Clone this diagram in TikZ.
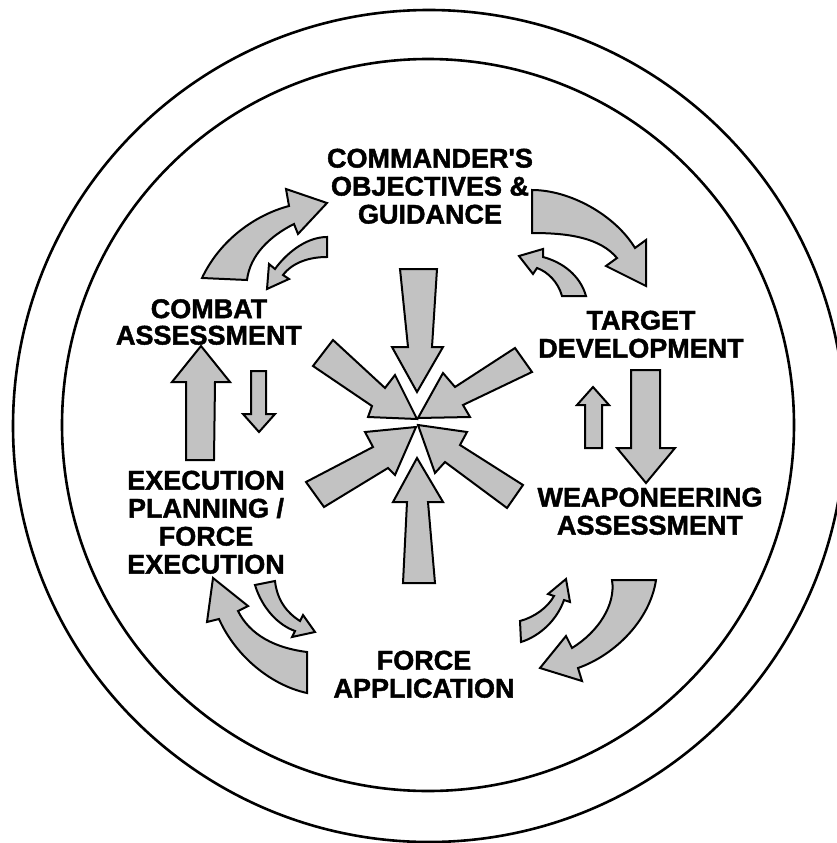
\documentclass[tikz,border=0pt]{standalone}
\usepackage{fontspec}
\setmainfont{Liberation Sans}
\newfontfamily\heavyfont{Liberation Sans Bold}[FakeBold=1.6]
\begin{document}
\begin{tikzpicture}[x=1pt,y=-1pt,
  blk/.style={draw=black, line width=2pt, fill=black!24, line join=miter},
  ring/.style={draw=black, line width=2.6pt},
  lbl/.style={font=\heavyfont\fontsize{27}{28}\selectfont, align=center, inner sep=0pt, anchor=north}]
\useasboundingbox (0,0) rectangle (837,843);
% rings
\draw[ring] (429,426) circle[radius=416pt];
\draw[ring] (428,425) circle[radius=366pt];
% labels
\node[lbl] (cmd) at (430,148.5) {COMMANDER\textquotesingle S\\OBJECTIVES \&\\GUIDANCE};
\node[lbl, font=\heavyfont\fontsize{27}{26.5}\selectfont] (combat) at (209,299) {COMBAT\\ASSESSMENT};
\node[lbl] (target) at (641,310.5) {TARGET\\DEVELOPMENT};
\node[lbl] (weapon) at (650,487.5) {WEAPONEERING\\ASSESSMENT};
\node[lbl] (exec) at (206,470.5) {EXECUTION\\PLANNING /\\FORCE\\EXECUTION};
\node[lbl] (force) at (424,650.5) {FORCE\\APPLICATION};
% central arrows
\draw[blk] (400,269) -- (437,269) -- (432,347) -- (443,347) -- (417,392) -- (392,347) -- (408,347) -- cycle;
\draw[blk] (417,458) -- (443,502) -- (428,502) -- (435,583) -- (403,583) -- (407,502) -- (393,502) -- cycle;
\draw[blk] (333,340) -- (385,388) -- (395,375) -- (417,419) -- (368,417) -- (372,406) -- (313,366) -- cycle;
\draw[blk] (515,348) -- (455,387) -- (443,373) -- (418,418) -- (470,417) -- (463,405) -- (532,372) -- cycle;
\draw[blk] (306,482) -- (373,447) -- (365,432) -- (416,427) -- (395,475) -- (388,468) -- (324,507) -- cycle;
\draw[blk] (523,485) -- (460,445) -- (467,432) -- (418,425) -- (435,473) -- (445,462) -- (507,508) -- cycle;
% straight outer arrows
\draw[blk] (201,346) -- (230,382) -- (215,382) -- (214,460) -- (186,460) -- (186,382) -- (172,382) -- cycle;
\draw[blk] (251,371) -- (266,371) -- (266,414) -- (275,414) -- (259,432) -- (243,414) -- (251,414) -- cycle;
\draw[blk] (631,370) -- (660,370) -- (660,448) -- (675,448) -- (646,483) -- (617,448) -- (631,448) -- cycle;
\draw[blk] (593,387) -- (609,405) -- (602,405) -- (602,448) -- (585,448) -- (585,405) -- (577,405) -- cycle;
% curved arrows: top left
\draw[blk] (202,278) .. controls (220,240) and (255,215) .. (289,206) -- (286,189) -- (327,203) -- (298,234) -- (294,224)
  .. controls (270,236) and (250,255) .. (247,280) -- cycle;
\draw[blk] (327,237) .. controls (305,237) and (285,255) .. (275,269) -- (269,264) -- (267,289) -- (289,279) -- (283,275)
  .. controls (293,262) and (310,257) .. (327,257) -- cycle;
% top right
\draw[blk] (532,190) .. controls (570,190) and (615,215) .. (635,248) -- (646,240) -- (646,286) -- (606,266) -- (617,258)
  .. controls (600,238) and (570,233) .. (532,233) -- cycle;
\draw[blk] (586,296) .. controls (580,275) and (562,262) .. (543,257) -- (543,249) -- (519,256) -- (533,274) -- (537,268)
  .. controls (548,272) and (558,282) .. (562,296) -- cycle;
% bottom right
\draw[blk] (612,580) .. controls (616,605) and (598,632) .. (572,648) -- (566,636) -- (540,668) -- (582,681) -- (578,668)
  .. controls (615,655) and (650,620) .. (656,580) -- cycle;
\draw[blk] (520,621) .. controls (535,617) and (548,607) .. (554,596) -- (548,594) -- (566,579) -- (570,602) -- (564,600)
  .. controls (557,620) and (540,636) .. (521,642) -- cycle;
% bottom left
\draw[blk] (307,693) .. controls (270,685) and (235,655) .. (219,619) -- (207,622) -- (213,578) -- (248,606) -- (238,611)
  .. controls (250,635) and (275,648) .. (307,652) -- cycle;
\draw[blk] (275,581) .. controls (277,600) and (287,613) .. (300,621) -- (303,615) -- (315,632) -- (292,637) -- (295,631)
  .. controls (278,625) and (262,608) .. (255,585) -- cycle;
\end{tikzpicture}
\end{document}
